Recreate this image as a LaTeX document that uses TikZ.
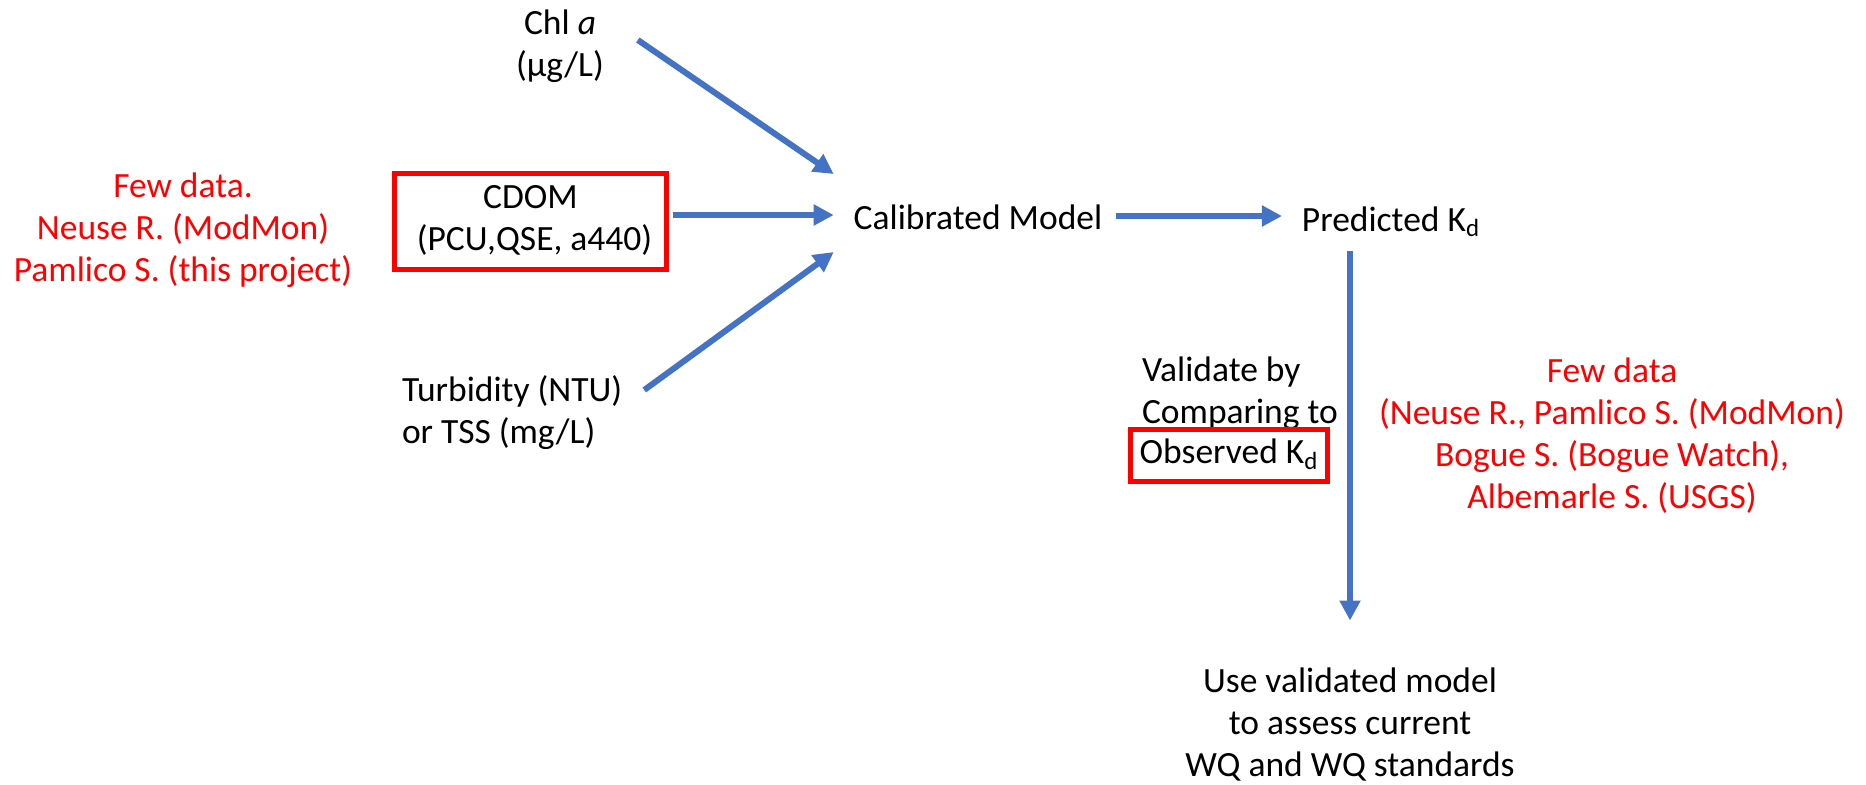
\documentclass[tikz,border=0pt]{standalone}
\usepackage{fontspec}
\setmainfont{Carlito}
\usetikzlibrary{arrows.meta,calc}
\definecolor{flowblue}{HTML}{4472C4}
\definecolor{notered}{HTML}{FF0000}
\tikzset{
  lbl/.style={inner sep=0pt, outer sep=0pt, align=center,
    font=\fontsize{17.75pt}{21pt}\selectfont},
  note/.style={lbl, text=notered},
  redbox/.style={draw=notered, line width=2.5pt},
  flow/.style={draw=flowblue, line width=3pt,
    -{Triangle[length=10pt,width=10pt]}},
}
\begin{document}
\begin{tikzpicture}[x=0.5pt, y=-0.5pt]
  \fill[white] (0,0) rectangle (1866,784);
  \useasboundingbox (0,0) rectangle (1866,784);

  % inputs
  \node[lbl] (chl) at (560,47.5) {\strut Chl \textit{a}\\\strut(μg/L)};
  \node[note] (fewl) at (183,231)
    {\strut Few data.\\\strut Neuse R. (ModMon)\\\strut Pamlico S. (this project)};
  \node[lbl, redbox, minimum width=136pt, minimum height=48pt] (cdom) at (530.5,221.5)
    {\strut CDOM\\\strut\ (PCU,QSE, a440)};
  \node[lbl, anchor=west, align=left] (turb) at (402,414.5)
    {\strut Turbidity (NTU)\\\strut or TSS (mg/L)};

  % model and prediction
  \node[lbl] (calib) at (978,221) {\strut Calibrated Model};
  \node[lbl] (pred) at (1391,223) {\strut Predicted K\textsubscript{d}};

  % validation
  \node[lbl, anchor=west, align=left] (valid) at (1142,394)
    {\strut Validate by\\\strut Comparing to};
  \node[lbl, redbox, minimum width=98.5pt, minimum height=26pt] (obs) at (1229,455.5)
    {\strut Observed K\textsubscript{d}};
  \node[note] (fewr) at (1612,437.5)
    {\strut Few data\\\strut (Neuse R., Pamlico S. (ModMon)\\\strut Bogue S. (Bogue Watch),\\\strut Albemarle S. (USGS)};

  % final use
  \node[lbl] (use) at (1350,726.5)
    {\strut Use validated model\\\strut to assess current\\\strut WQ and WQ standards};

  % connectors
  \draw[flow] ([shift={(34,-7.5)}]chl.east) -- ([shift={(-20,-47)}]calib.west);
  \draw[flow] ([shift={(6.5,-6.5)}]cdom.east) -- ([shift={(-20,-6)}]calib.west);
  \draw[flow] ([shift={(22,-24.5)}]turb.east) -- ([shift={(-20,31)}]calib.west);
  \draw[flow] ([shift={(14,-5)}]calib.east) -- ([shift={(-20,-7)}]pred.west);
  \draw[flow] ($(pred.south -| use.north)+(0,7)$) -- ($(use.north)+(0,-43)$);
\end{tikzpicture}
\end{document}
